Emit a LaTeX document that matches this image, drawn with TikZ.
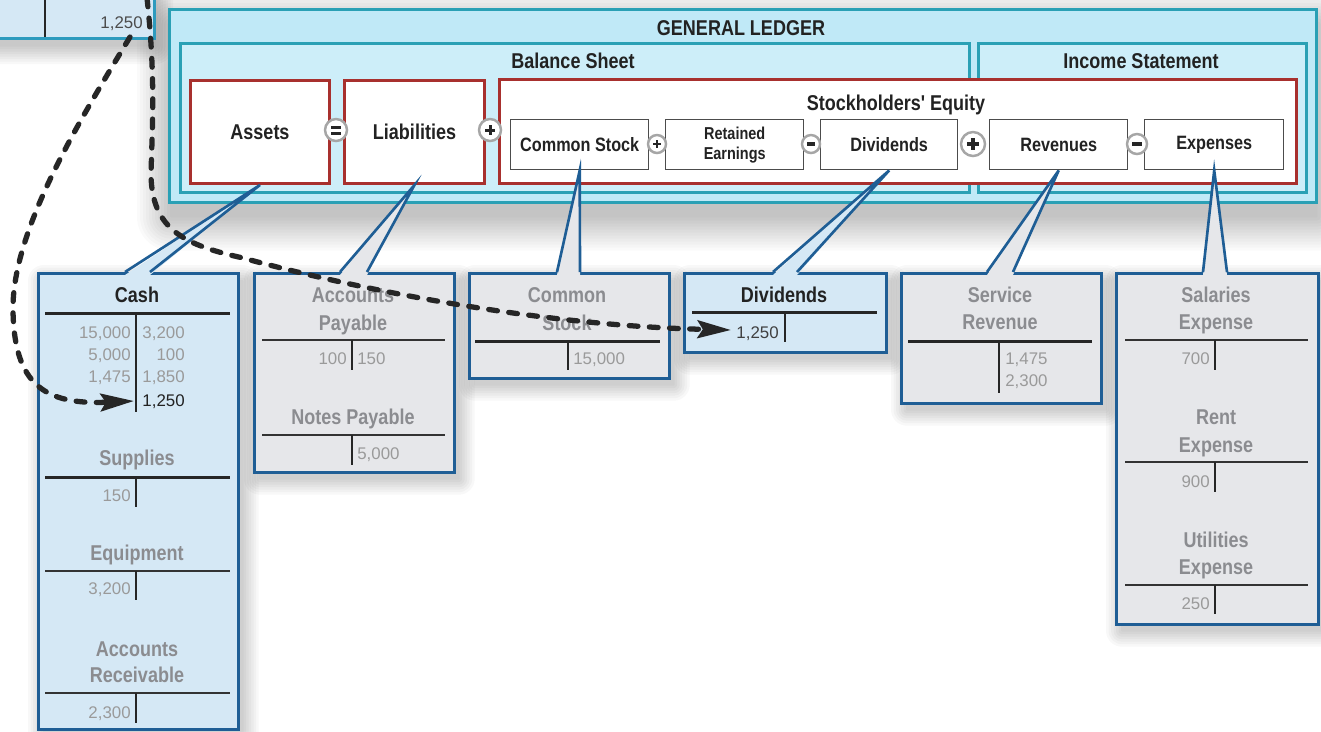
\documentclass[tikz,border=0pt]{standalone}
\usepackage{fontspec}
\setmainfont{Liberation Sans}
\newfontfamily\cond[FakeStretch=0.84]{Liberation Sans}
\usetikzlibrary{calc,arrows.meta}

\definecolor{glfill}{HTML}{C0E9F7}
\definecolor{glin}{HTML}{CDEEF9}
\definecolor{ledgerline}{HTML}{2AA0B5}
\definecolor{redline}{HTML}{A8302E}
\definecolor{tblue}{HTML}{1F5E95}
\definecolor{tfill}{HTML}{D5E8F5}
\definecolor{gfill}{HTML}{E6E7EA}
\definecolor{gtext}{HTML}{8B8C90}
\definecolor{ntext}{HTML}{9A9A9A}
\definecolor{dtext}{HTML}{222222}
\definecolor{jline}{HTML}{2E9BBE}

\newcommand\hdrfont{\cond\bfseries\fontsize{12.2}{14}\selectfont}
\newcommand\labfont{\cond\bfseries\fontsize{11}{12}\selectfont}
\newcommand\smlfont{\cond\bfseries\fontsize{9.8}{11.3}\selectfont}
\newcommand\numfont{\fontsize{9.6}{11}\selectfont}

% callout tail: apex, left foot, right foot, fill colour
\newcommand\calltail[4]{%
  \fill[#4] ($(#2)+(0,3)$) -- (#1) -- ($(#3)+(0,3)$) -- cycle;
  \draw[tailline] (#2) -- (#1) -- (#3);}

% soft drop shadow behind a node: node, x offset, y offset, layers, spread step (px), opacity
\newcommand\softshadow[6]{%
  \foreach \k in {0,...,#4} {%
    \fill[black, opacity=#6, rounded corners={(\k*#5+1)*0.02cm}]
      ($(#1.north west)+({#2-\k*#5},{#3-\k*#5})$) rectangle
      ($(#1.south east)+({#2+\k*#5},{#3+\k*#5})$);}}

\begin{document}
\begin{tikzpicture}[x=0.02cm, y=-0.02cm,
  wh/.style 2 args={minimum width={#1*0.02cm}, minimum height={#2*0.02cm}},
  ledger/.style={draw=ledgerline, line width=1.7pt, fill=glfill, anchor=north west, inner sep=0},
  redbox/.style={draw=redline, line width=1.7pt, fill=white, anchor=north west, inner sep=0, font=\hdrfont, text=dtext},
  wbox/.style={draw=black!70, line width=0.8pt, fill=white, anchor=north west, inner sep=0, font=\labfont, text=dtext},
  hdr/.style={font=\hdrfont, text=dtext, inner sep=0, anchor=base},
  tacct/.style={draw=tblue, line width=1.8pt, anchor=north west, inner sep=0},
  ghost/.style={anchor=north west, inner sep=0},
  ttl/.style={font=\hdrfont, anchor=base, inner sep=0, text=gtext},
  num/.style={font=\numfont, inner sep=0, text=ntext},
  tk/.style={line width=1.7pt, draw=black!85},
  tn/.style={line width=0.9pt, draw=black!80},
  tv/.style={line width=0.9pt, draw=black!85},
  opc/.style={circle, draw=black!35, line width=1.4pt, fill=white, inner sep=0, minimum size={#1*0.02cm}},
  sym/.style={line width=1.7pt, draw=black!85},
  symm/.style={line width=2.8pt, draw=black!85},
  tailline/.style={draw=tblue, line width=1.5pt, line join=miter},
  dasharrow/.style={draw=black!85, line width=3pt, line cap=round, dash pattern=on 5pt off 6.5pt,
    -{Stealth[length=19pt, width=10pt, inset=3pt]}}
]
\useasboundingbox (0,0) rectangle (1321,731);
\fill[white] (0,0) rectangle (1321,731);

% ---------- shadows ----------
\path (-12,-12) node[ghost, wh={165}{49}] (jrnlS) {}
      (168,8) node[ghost, wh={1147}{193}] (glS) {}
      (37,272) node[ghost, wh={200}{456}] (cashS) {}
      (253,272) node[ghost, wh={200}{199}] (apS) {}
      (468,272) node[ghost, wh={200}{105}] (csS) {}
      (683,272) node[ghost, wh={202}{79}] (dvS) {}
      (900,272) node[ghost, wh={200}{130}] (srS) {}
      (1115,272) node[ghost, wh={202}{351}] (exS) {};
\softshadow{jrnlS}{2}{9}{7}{2.5}{0.026}
\softshadow{glS}{2}{16}{11}{3}{0.02}
\foreach \s in {cashS,apS,csS,dvS,srS,exS} {\softshadow{\s}{6}{8}{6}{2.5}{0.026}}

% journal entry box at the top left
\node[draw=jline, line width=1.7pt, fill=tfill, anchor=north west, inner sep=0, wh={165}{49}] (jrnl) at (-12,-12) {};
\draw[tv] (45,-12) -- (45,37);
\node[num, text=black!70, anchor=base east] (jamt) at (143,28) {1,250};
\coordinate (j1) at (130,37);
\coordinate (j2) at (147,-2);

% general ledger
\node[ledger, wh={1147}{193}] (gl) at (168,8) {};
\node[ledger, fill=glin, wh={789}{149}] (bs) at (179,42) {};
\node[ledger, fill=glin, wh={328}{149}] (is) at (977,42) {};
\node[hdr] (glT) at (741,35) {GENERAL LEDGER};
\node[hdr] (bsT) at (573,68) {Balance Sheet};
\node[hdr] (isT) at (1141,68) {Income Statement};

\node[redbox, wh={139}{103}] (assets) at (189,79) {Assets};
\node[redbox, wh={140}{103}] (liab) at (343,79) {Liabilities};
\node[redbox, wh={797}{104}] (se) at (498,78) {};
\node[hdr] (seT) at (896,110) {Stockholders' Equity};

\node[wbox, wh={138}{50}] (ics) at (510,119) {Common Stock};
\node[wbox, wh={138}{50}, font=\smlfont, align=center] (ire) at (665,119) {Retained\\Earnings};
\node[wbox, wh={137}{50}] (idv) at (820,119) {Dividends};
\node[wbox, wh={138}{50}] (irv) at (989,119) {Revenues};
\node[wbox, wh={139}{50}] (iex) at (1144,119) {Expenses};

% operators between the boxes
\node[opc=22] (oEq) at (336,130) {};
\draw[sym] ($(oEq)+(-5,-3)$) -- ++(10,0) ($(oEq)+(-5,3)$) -- ++(10,0);
\node[opc=22] (oP1) at (490,130) {};
\draw[sym] ($(oP1)+(-5,0)$) -- ++(10,0) ($(oP1)+(0,-5)$) -- ++(0,10);
\node[opc=18] (oP2) at (657,144) {};
\draw[sym, line width=1.4pt] ($(oP2)+(-4,0)$) -- ++(8,0) ($(oP2)+(0,-4)$) -- ++(0,8);
\node[opc=18] (oM1) at (811,144) {};
\draw[symm] ($(oM1)+(-4,0)$) -- ++(8,0);
\node[opc=24] (oP3) at (973,144) {};
\draw[sym, line width=2pt] ($(oP3)+(-6,0)$) -- ++(12,0) ($(oP3)+(0,-6)$) -- ++(0,12);
\node[opc=20] (oM2) at (1137,144) {};
\draw[symm] ($(oM2)+(-5,0)$) -- ++(10,0);

% ---------- T accounts ----------
% Cash column
\node[tacct, fill=tfill, wh={200}{456}] (cash) at (37,272) {};
\node[ttl, text=dtext] (cashT) at (137,302) {Cash};
\draw[tk] (45,313) -- (230,313);
\draw[tv] (136,313) -- (136,412);
\node[num, anchor=base east] (cd1) at (131,338) {15,000};
\node[num, anchor=base east] (cd2) at (131,360) {5,000};
\node[num, anchor=base east] (cd3) at (131,382) {1,475};
\node[num, anchor=base east] (cc1) at (185,338) {3,200};
\node[num, anchor=base east] (cc2) at (185,360) {100};
\node[num, anchor=base east] (cc3) at (185,382) {1,850};
\node[num, anchor=base east, text=dtext] (cc4) at (185,406) {1,250};
\coordinate (cashtip) at (134,401);

\node[ttl] (supT) at (137,465) {Supplies};
\draw[tk] (45,477) -- (230,477);
\draw[tv] (136,477) -- (136,507);
\node[num, anchor=base east] (sup1) at (131,501) {150};

\node[ttl] (eqpT) at (137,560) {Equipment};
\draw[tn] (45,571) -- (230,571);
\draw[tv] (136,571) -- (136,600);
\node[num, anchor=base east] (eqp1) at (131,594) {3,200};

\node[ttl] (arT1) at (137,656) {Accounts};
\node[ttl] (arT2) at (137,682) {Receivable};
\draw[tn] (45,693) -- (230,693);
\draw[tv] (136,693) -- (136,723);
\node[num, anchor=base east] (ar1) at (131,718) {2,300};

% Liabilities column
\node[tacct, fill=gfill, wh={200}{199}] (apbox) at (253,272) {};
\node[ttl] (apT1) at (353,302) {Accounts};
\node[ttl] (apT2) at (353,330) {Payable};
\draw[tn] (262,340) -- (445,340);
\draw[tv] (352,340) -- (352,370);
\node[num, anchor=base east] (ap1) at (347,364) {100};
\node[num, anchor=base west] (ap2) at (357,364) {150};
\node[ttl] (npT) at (353,424) {Notes Payable};
\draw[tn] (262,435) -- (445,435);
\draw[tv] (352,435) -- (352,465);
\node[num, anchor=base west] (np1) at (357,459) {5,000};

% Common stock
\node[tacct, fill=gfill, wh={200}{105}] (csbox) at (468,272) {};
\node[ttl] (csT1) at (567,302) {Common};
\node[ttl] (csT2) at (567,330) {Stock};
\draw[tk] (475,341) -- (660,341);
\draw[tv] (568,341) -- (568,370);
\node[num, anchor=base west] (cs1) at (573,364) {15,000};

% Dividends
\node[tacct, fill=tfill, wh={202}{79}] (dvbox) at (683,272) {};
\node[ttl, text=dtext] (dvT) at (784,302) {Dividends};
\draw[tk] (692,312) -- (877,312);
\draw[tv] (785,312) -- (785,342);
\node[num, anchor=base east, text=black!75] (dv1) at (779,338) {1,250};
\coordinate (divtip) at (731,330);

% Service revenue
\node[tacct, fill=gfill, wh={200}{130}] (srbox) at (900,272) {};
\node[ttl] (srT1) at (1000,302) {Service};
\node[ttl] (srT2) at (1000,329) {Revenue};
\draw[tk] (908,341) -- (1092,341);
\draw[tv] (999,341) -- (999,393);
\node[num, anchor=base west] (sr1) at (1005,364) {1,475};
\node[num, anchor=base west] (sr2) at (1005,386) {2,300};

% Expenses column
\node[tacct, fill=gfill, wh={202}{351}] (exbox) at (1115,272) {};
\node[ttl] (salT1) at (1216,302) {Salaries};
\node[ttl] (salT2) at (1216,329) {Expense};
\draw[tn] (1125,340) -- (1308,340);
\draw[tv] (1215,340) -- (1215,370);
\node[num, anchor=base east] (sal1) at (1210,364) {700};
\node[ttl] (rentT1) at (1216,424) {Rent};
\node[ttl] (rentT2) at (1216,452) {Expense};
\draw[tn] (1125,462) -- (1308,462);
\draw[tv] (1215,462) -- (1215,492);
\node[num, anchor=base east] (rent1) at (1210,487) {900};
\node[ttl] (utT1) at (1216,547) {Utilities};
\node[ttl] (utT2) at (1216,574) {Expense};
\draw[tn] (1125,585) -- (1308,585);
\draw[tv] (1215,585) -- (1215,614);
\node[num, anchor=base east] (ut1) at (1210,609) {250};

% ---------- callout tails ----------
\coordinate (cashL) at (125,272);  \coordinate (cashR) at (150,272);
\coordinate (apL) at (340,272);    \coordinate (apR) at (367,272);
\coordinate (csL) at (557,272);    \coordinate (csR) at (580,272);
\coordinate (dvL) at (773,272);    \coordinate (dvR) at (797,272);
\coordinate (srL) at (987,272);    \coordinate (srR) at (1013,272);
\coordinate (exL) at (1203,272);   \coordinate (exR) at (1227,272);
\calltail{assets.south}{cashL}{cashR}{tfill}
\calltail{liab.south}{apL}{apR}{gfill}
\calltail{ics.south}{csL}{csR}{gfill}
\calltail{idv.south}{dvL}{dvR}{tfill}
\calltail{irv.south}{srL}{srR}{gfill}
\calltail{iex.south}{exL}{exR}{gfill}

% ---------- posting arrows ----------
\draw[dasharrow] (j1) .. controls (80,120) and (12,230) .. (13,310)
  .. controls (14,385) and (45,405) .. (cashtip);
\draw[dasharrow] (j2) .. controls (156,80) and (152,130) .. (151,175)
  .. controls (152,230) and (185,245) .. (243,258)
  .. controls (330,282) and (520,325) .. (divtip);
\end{tikzpicture}
\end{document}
